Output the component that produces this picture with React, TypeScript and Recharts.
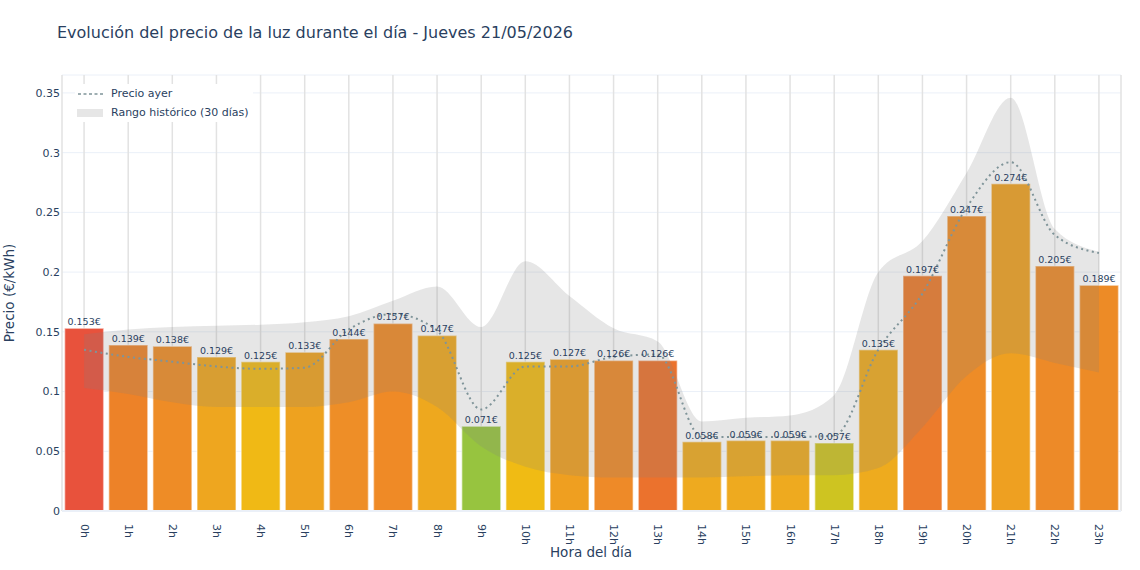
import React from 'react'
import { ComposedChart, Bar, Line, Area, XAxis, YAxis, CartesianGrid, Legend, LabelList, Cell } from 'recharts'

const FONT = '"DejaVu Sans", Verdana, sans-serif'
const INK = '#2a3f5f'

const horas = ['0h', '1h', '2h', '3h', '4h', '5h', '6h', '7h', '8h', '9h', '10h', '11h', '12h', '13h', '14h', '15h', '16h', '17h', '18h', '19h', '20h', '21h', '22h', '23h']
const precioHoy = [0.153, 0.139, 0.138, 0.129, 0.125, 0.133, 0.144, 0.157, 0.147, 0.071, 0.125, 0.127, 0.126, 0.126, 0.058, 0.059, 0.059, 0.057, 0.135, 0.197, 0.247, 0.274, 0.205, 0.189]
const precioAyer = [0.135, 0.129, 0.125, 0.121, 0.119, 0.12, 0.152, 0.165, 0.151, 0.085, 0.121, 0.121, 0.129, 0.131, 0.062, 0.062, 0.062, 0.063, 0.135, 0.182, 0.254, 0.292, 0.231, 0.216]
const rangoMin = [0.103, 0.098, 0.091, 0.087, 0.087, 0.087, 0.091, 0.1, 0.087, 0.054, 0.037, 0.03, 0.028, 0.028, 0.028, 0.029, 0.03, 0.03, 0.036, 0.07, 0.113, 0.132, 0.124, 0.116]
const rangoMax = [0.148, 0.152, 0.154, 0.155, 0.156, 0.158, 0.163, 0.176, 0.188, 0.154, 0.209, 0.18, 0.153, 0.142, 0.075, 0.078, 0.08, 0.097, 0.2, 0.226, 0.283, 0.346, 0.236, 0.217]
const coloresBarra = ['#e8523c', '#ed8228', '#ee8c26', '#eea61f', '#f0b915', '#eea21f', '#ee8e27', '#ef8a26', '#eea81e', '#97c43f', '#f0bb14', '#ef9f20', '#ee8a28', '#eb722d', '#eeaa1f', '#eeaa1f', '#eeaa1f', '#cec421', '#eeab1e', '#ec7b2c', '#ee8c27', '#eea021', '#ed8a28', '#ed8b26']
const yTicks = [0, 0.05, 0.1, 0.15, 0.2, 0.25, 0.3, 0.35]

const data = horas.map((hora, i) => ({
  hora,
  precio: precioHoy[i],
  ayer: precioAyer[i],
  rango: [rangoMin[i], rangoMax[i]],
}))

function HourTick({ x, y, payload }: any) {
  return (
    <text transform={`translate(${x},${y + 5}) rotate(90)`} textAnchor="start" dominantBaseline="central" fontSize={11} fill={INK} fontFamily={FONT}>
      {payload.value}
    </text>
  )
}

function LegendBox() {
  return (
    <div style={{ background: '#fff', padding: '0 4px 0 2px', fontSize: 11, color: INK, fontFamily: FONT }}>
      <div style={{ display: 'flex', alignItems: 'center', height: 19 }}>
        <svg width={26} height={10} style={{ marginRight: 8 }}>
          <line x1={1} y1={5} x2={26} y2={5} stroke="#7f9499" strokeWidth={1.5} strokeDasharray="3 2.5" />
        </svg>
        <span>Precio ayer</span>
      </div>
      <div style={{ display: 'flex', alignItems: 'center', height: 19 }}>
        <svg width={26} height={10} style={{ marginRight: 8 }}>
          <rect x={0} y={1} width={26} height={8} fill="#808080" fillOpacity={0.2} />
        </svg>
        <span>Rango histórico (30 días)</span>
      </div>
    </div>
  )
}

export default function App() {
  return (
    <div style={{ position: 'relative', width: 1140, height: 570, background: '#fff', fontFamily: FONT }}>
      <style>{'body{margin:0}'}</style>
      <div style={{ position: 'absolute', left: 57, top: 23, fontSize: 16, lineHeight: '20px', color: INK, whiteSpace: 'nowrap' }}>
        Evolución del precio de la luz durante el día - Jueves 21/05/2026
      </div>
      <ComposedChart width={1140} height={570} data={data} margin={{ top: 75, right: 19, bottom: 0, left: 0 }} barCategoryGap="6%">
        <CartesianGrid horizontal vertical={false} stroke="#ebf0f8" />
        <CartesianGrid horizontal={false} vertical stroke="#e2e2e2" strokeWidth={1.5} />
        <XAxis
          dataKey="hora"
          interval={0}
          height={59}
          tick={<HourTick />}
          tickLine={false}
          axisLine={{ stroke: '#ebf0f8', strokeWidth: 2 }}
          label={{
            content: () => (
              <text x={591} y={557} textAnchor="middle" fontSize={13.5} fill={INK} fontFamily={FONT}>
                Hora del día
              </text>
            ),
          }}
        />
        <YAxis
          width={62}
          domain={[0, 0.365]}
          ticks={yTicks}
          tickFormatter={(v) => String(+Number(v).toFixed(2))}
          tick={{ fontSize: 11, fill: INK, fontFamily: FONT }}
          tickLine={false}
          tickSize={0}
          tickMargin={2}
          axisLine={false}
          label={{
            content: () => (
              <text x={9} y={293} transform="rotate(-90 9 293)" textAnchor="middle" dominantBaseline="central" fontSize={13.5} fill={INK} fontFamily={FONT}>
                Precio (€/kWh)
              </text>
            ),
          }}
        />
        <Legend
          layout="horizontal"
          verticalAlign="middle"
          align="center"
          content={<LegendBox />}
          wrapperStyle={{ position: 'absolute', left: 75, top: 84, width: 'auto', height: 'auto' }}
        />
        <Bar dataKey="precio" isAnimationActive={false} stroke="rgba(255,255,255,0.45)" strokeWidth={1.5}>
          {data.map((_, i) => (
            <Cell key={`cell-${i}`} fill={coloresBarra[i]} />
          ))}
          <LabelList dataKey="precio" position="top" offset={3} formatter={(v: any) => `${Number(v).toFixed(3)}€`} fontSize={9.5} fill={INK} fontFamily={FONT} />
        </Bar>
        <Area dataKey="rango" type="monotone" stroke="none" fill="#808080" fillOpacity={0.2} isAnimationActive={false} zIndex={350} activeDot={false} />
        <Line dataKey="ayer" type="monotone" stroke="#7f9499" strokeWidth={2} strokeDasharray="2 3.5" dot={false} activeDot={false} isAnimationActive={false} />
      </ComposedChart>
    </div>
  )
}
